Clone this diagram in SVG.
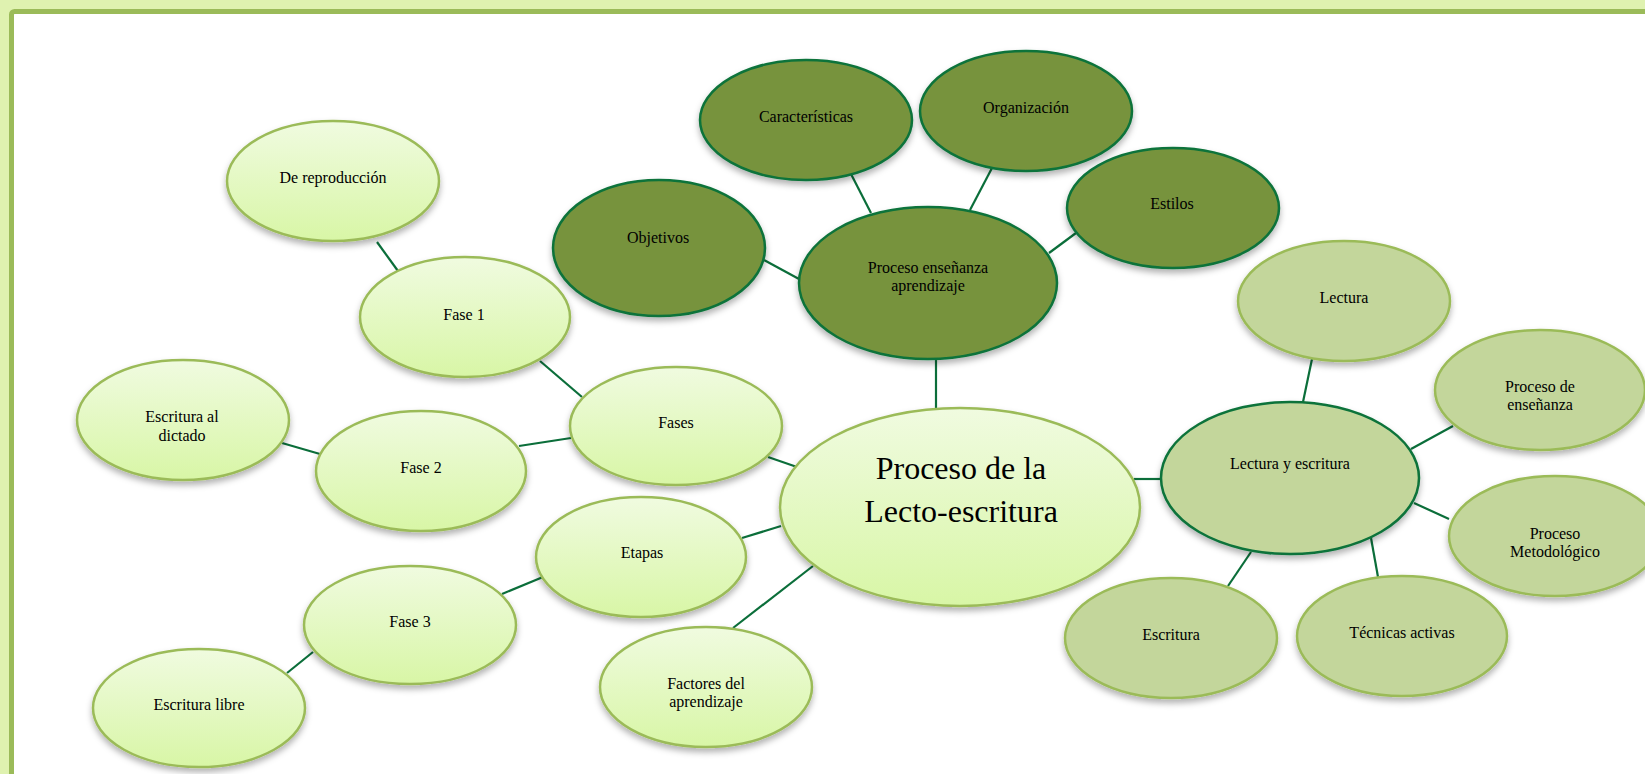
<svg xmlns="http://www.w3.org/2000/svg" width="1645" height="774" viewBox="0 0 1645 774">
<defs>
<linearGradient id="gLight" x1="0" y1="0" x2="0" y2="1">
<stop offset="0" stop-color="#f0fbe0"/>
<stop offset="1" stop-color="#d8f6a6"/>
</linearGradient>
<filter id="sh" x="-10%" y="-10%" width="120%" height="135%">
<feDropShadow dx="0" dy="4" stdDeviation="3" flood-color="#000" flood-opacity="0.3"/>
</filter>
</defs>
<style>
.light{fill:url(#gLight);stroke:#9bbb59;stroke-width:2.5;filter:url(#sh)}
.dark{fill:#77933c;stroke:#0b733a;stroke-width:2.5;filter:url(#sh)}
.mid{fill:#c3d69b;stroke:#9bbb59;stroke-width:2.5;filter:url(#sh)}
.midd{fill:#c3d69b;stroke:#0b733a;stroke-width:2.5;filter:url(#sh)}
.t{font-family:"Liberation Serif","Times New Roman",serif;font-size:16px;fill:#000;text-anchor:middle}
.big{font-family:"Liberation Serif","Times New Roman",serif;font-size:32px;fill:#000;text-anchor:middle}
#connectors line{stroke:#0b6e3a;stroke-width:2.2}
</style>
<rect x="0" y="0" width="1645" height="774" fill="#dff2b0"/>
<rect x="11.5" y="11.5" width="1700" height="800" rx="3" fill="#ffffff" stroke="#9bbb59" stroke-width="5"/>

<g id="connectors">
<line x1="377" y1="242" x2="398" y2="271"/>
<line x1="540" y1="361" x2="582" y2="397"/>
<line x1="519" y1="446" x2="571" y2="438"/>
<line x1="282" y1="443" x2="320" y2="454"/>
<line x1="768" y1="457" x2="797" y2="467"/>
<line x1="502" y1="594" x2="543" y2="577"/>
<line x1="287" y1="673" x2="313" y2="652"/>
<line x1="742" y1="538" x2="781" y2="526"/>
<line x1="733" y1="628" x2="813" y2="566"/>
<line x1="936" y1="360" x2="936" y2="409"/>
<line x1="851" y1="174" x2="871" y2="213"/>
<line x1="992" y1="168" x2="970" y2="210"/>
<line x1="764" y1="260" x2="799" y2="279"/>
<line x1="1076" y1="233" x2="1049" y2="253"/>
<line x1="1134" y1="479" x2="1161" y2="479"/>
<line x1="1312" y1="359" x2="1303" y2="402"/>
<line x1="1453" y1="426" x2="1411" y2="449"/>
<line x1="1449" y1="519" x2="1414" y2="503"/>
<line x1="1251" y1="552" x2="1228" y2="586"/>
<line x1="1371" y1="538" x2="1378" y2="577"/>
</g>

<g id="n-dereproduccion"><ellipse class="light" cx="333" cy="181" rx="106" ry="60"/><text class="t" x="333" y="183">De reproducción</text></g>
<g id="n-fase1"><ellipse class="light" cx="465" cy="317" rx="105" ry="60"/><text class="t" x="464" y="320">Fase 1</text></g>
<g id="n-fases"><ellipse class="light" cx="676" cy="426" rx="106" ry="59"/><text class="t" x="676" y="428">Fases</text></g>
<g id="n-escdictado"><ellipse class="light" cx="183" cy="420" rx="106" ry="60"/><text class="t" x="182" y="422">Escritura al</text><text class="t" x="182" y="441">dictado</text></g>
<g id="n-fase2"><ellipse class="light" cx="421" cy="471" rx="105" ry="60"/><text class="t" x="421" y="473">Fase 2</text></g>
<g id="n-etapas"><ellipse class="light" cx="641" cy="557" rx="105" ry="60"/><text class="t" x="642" y="558">Etapas</text></g>
<g id="n-fase3"><ellipse class="light" cx="410" cy="625" rx="106" ry="59"/><text class="t" x="410" y="627">Fase 3</text></g>
<g id="n-esclibre"><ellipse class="light" cx="199" cy="708" rx="106" ry="59"/><text class="t" x="199" y="710">Escritura libre</text></g>
<g id="n-factores"><ellipse class="light" cx="706" cy="687" rx="106" ry="60"/><text class="t" x="706" y="689">Factores del</text><text class="t" x="706" y="707">aprendizaje</text></g>
<g id="n-central"><ellipse class="light" cx="960" cy="507" rx="180" ry="99"/><text class="big" x="961" y="479">Proceso de la</text><text class="big" x="961" y="522">Lecto-escritura</text></g>

<g id="n-objetivos"><ellipse class="dark" cx="659" cy="248" rx="106" ry="68"/><text class="t" x="658" y="243">Objetivos</text></g>
<g id="n-caracteristicas"><ellipse class="dark" cx="806" cy="120" rx="106" ry="60"/><text class="t" x="806" y="122">Características</text></g>
<g id="n-organizacion"><ellipse class="dark" cx="1026" cy="111" rx="106" ry="60"/><text class="t" x="1026" y="113">Organización</text></g>
<g id="n-estilos"><ellipse class="dark" cx="1173" cy="208" rx="106" ry="60"/><text class="t" x="1172" y="209">Estilos</text></g>
<g id="n-pea"><ellipse class="dark" cx="928" cy="283" rx="129" ry="76"/><text class="t" x="928" y="273">Proceso enseñanza</text><text class="t" x="928" y="291">aprendizaje</text></g>

<g id="n-lectura"><ellipse class="mid" cx="1344" cy="301" rx="106" ry="60"/><text class="t" x="1344" y="303">Lectura</text></g>
<g id="n-procens"><ellipse class="mid" cx="1540" cy="390" rx="105" ry="60"/><text class="t" x="1540" y="392">Proceso de</text><text class="t" x="1540" y="410">enseñanza</text></g>
<g id="n-lye"><ellipse class="midd" cx="1290" cy="478" rx="129" ry="76"/><text class="t" x="1290" y="469">Lectura y escritura</text></g>
<g id="n-procmet"><ellipse class="mid" cx="1555" cy="536" rx="106" ry="60"/><text class="t" x="1555" y="539">Proceso</text><text class="t" x="1555" y="557">Metodológico</text></g>
<g id="n-escritura"><ellipse class="mid" cx="1171" cy="638" rx="106" ry="60"/><text class="t" x="1171" y="640">Escritura</text></g>
<g id="n-tecnicas"><ellipse class="mid" cx="1402" cy="636" rx="105" ry="60"/><text class="t" x="1402" y="638">Técnicas activas</text></g>
</svg>
